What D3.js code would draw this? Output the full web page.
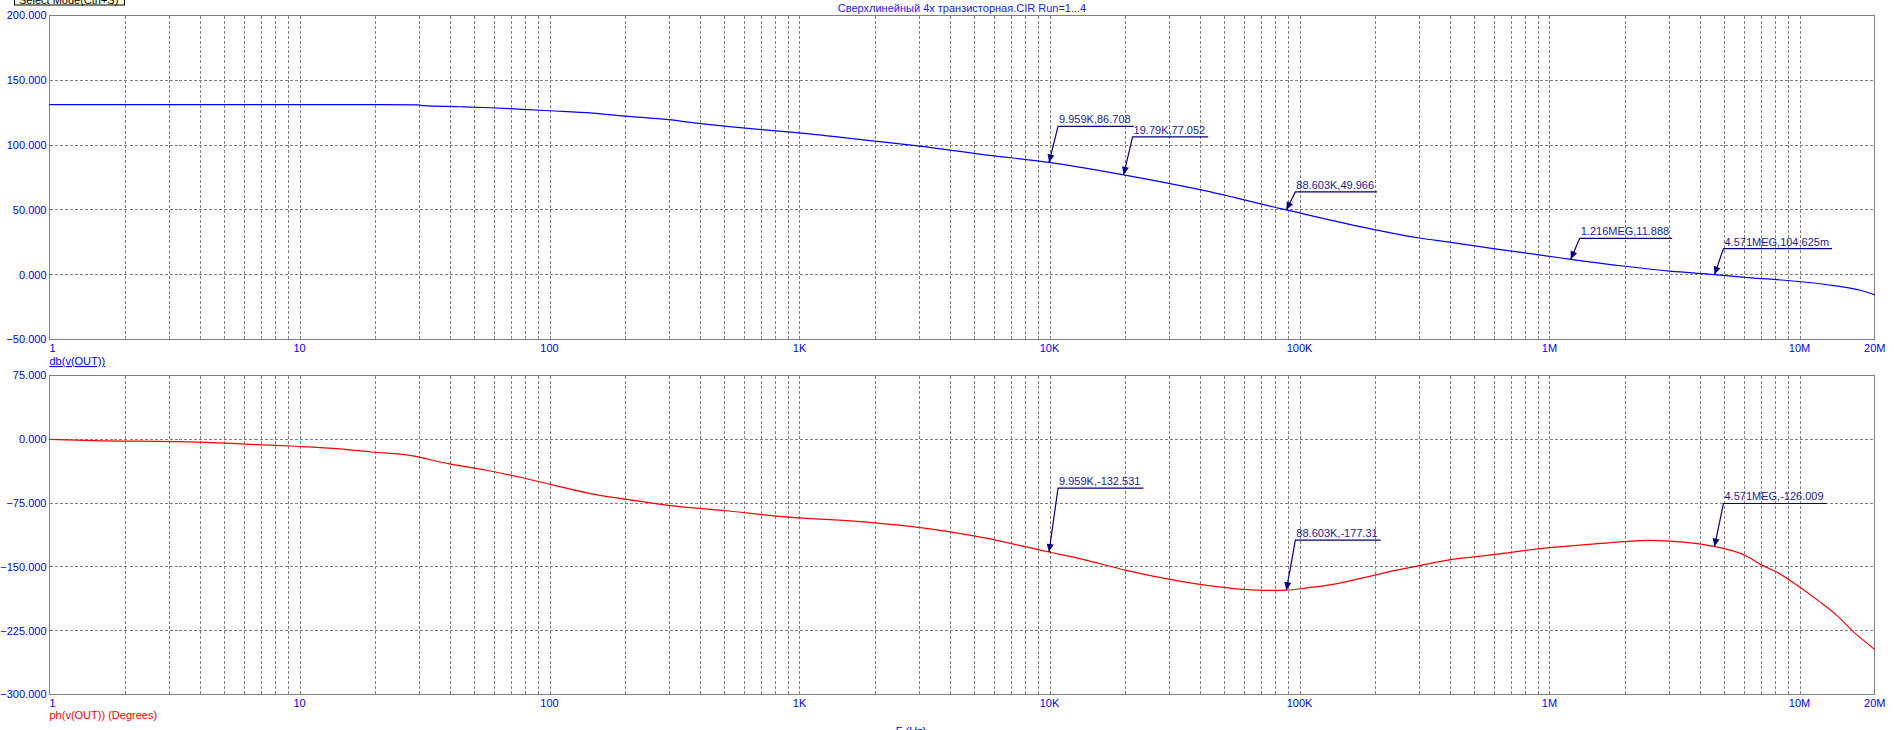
<!DOCTYPE html>
<html>
<head>
<meta charset="utf-8">
<script src="https://cdn.jsdelivr.net/npm/d3@7"></script>
<style>
  html, body { margin: 0; padding: 0; background: #fff; }
  svg { display: block; }
  text { font-family: "Liberation Sans", Arial, sans-serif; font-size: 11px; }
</style>
</head>
<body>
<svg id="chart" width="1894" height="730"></svg>
<script>
// ---------------- data ----------------
const titleText = "Сверхлинейный 4x транзисторная.CIR Run=1...4";

const magFreq = [1, 21, 30, 31.3, 44, 58, 69.5, 83, 100, 148.6, 200, 299, 403, 512, 764, 971,
  1995, 3027, 5628, 9959, 19790, 40000, 88603, 202000, 301000, 402000, 596000, 1000000,
  1216000, 2000000, 3030000, 4571000, 6050000, 10000000, 13700000, 17500000, 20000000];
const magDb = [131.2, 131.2, 131.0, 130.4, 129.6, 128.8, 128.1, 127.3, 126.5, 124.7, 122.4, 119.6,
  116.5, 114.4, 111.3, 109.6, 103.1, 99.2, 92.3, 86.7, 77.05, 65.6, 49.97, 34.6, 28.3, 25.0,
  20.1, 14.2, 11.89, 6.5, 2.7, 0.1, -2.0, -5.3, -8.4, -12.0, -15.6];

const phFreq = [1, 1.51, 3.14, 4.47, 6.74, 9.6, 14.5, 19.4, 26.8, 39.4, 56, 79.6, 100.6, 151, 203,
  299, 523, 834, 1900, 3050, 5430, 9959, 13600, 20300, 30300, 40000, 59600, 76000, 88603,
  106000, 136000, 185000, 250000, 301000, 402000, 596000, 1000000, 1440000, 2000000, 2500000,
  3030000, 3900000, 4571000, 6050000, 7100000, 8100000, 10000000, 12100000, 14100000,
  16500000, 20000000];
const phDeg = [0, -1.5, -2.7, -3.8, -6.2, -8.2, -11.3, -14.9, -18.4, -28.6, -36.4, -45.8, -52.9,
  -64.7, -70.6, -77.6, -84.3, -90.6, -97.6, -103.8, -115.6, -132.5, -141.2, -154.1, -164.7,
  -170.6, -176.4, -177.6, -177.3, -174.9, -170.6, -162, -153.3, -148.6, -141.5, -135.6, -127.4,
  -123.5, -120.3, -118.8, -119.6, -122.7, -126.0, -136.4, -148.2, -156, -173.7, -191.4, -207,
  -226.7, -247];

const xTickValues = [1, 10, 100, 1e3, 1e4, 1e5, 1e6, 1e7, 2e7];
const xTickLabels = ["1", "10", "100", "1K", "10K", "100K", "1M", "10M", "20M"];
const magTicks = [200, 150, 100, 50, 0, -50];
const phTicks = [75, 0, -75, -150, -225, -300];

// markers (frequency, value, label)
const magMarkerFreq = [9959, 19790, 88603, 1216000, 4571000];
const magMarkerVal = [86.708, 77.052, 49.966, 11.888, 0.104625];
const magMarkerText = ["9.959K,86.708", "19.79K,77.052", "88.603K,49.966", "1.216MEG,11.888", "4.571MEG,104.625m"];
const phMarkerFreq = [9959, 88603, 4571000];
const phMarkerVal = [-132.531, -177.31, -126.009];
const phMarkerText = ["9.959K,-132.531", "88.603K,-177.31", "4.571MEG,-126.009"];

// layout: label lift of each marker (px)
const magMarkerLift = [36, 38, 18, 21, 26];
const phMarkerLift = [64, 50, 43];

// ---------------- layout ----------------
const svg = d3.select("#chart");
const GRID = "#808080", BLUE = "#0000ff", RED = "#ff0000", NAVY = "#000080";

const x = d3.scaleLog().domain([1, 2e7]).range([49.5, 49.5 + 250 * Math.log10(2e7)]);
const yMag = d3.scaleLinear().domain([-50, 200]).range([339.5, 15.5]);
const yPh = d3.scaleLinear().domain([-300, 75]).range([694.5, 375.5]);

const minorVals = [];
for (let k = 0; k <= 7; k++) {
  for (let m = 1; m <= 9; m++) {
    const v = m * Math.pow(10, k);
    if (v > 1 && v < 2e7) minorVals.push(v);
  }
}

// tooltip remnant at top-left
svg.append("rect").attr("x", 14.5).attr("y", -8).attr("width", 110).attr("height", 13)
  .attr("fill", "#ffffe1").attr("stroke", "#000").attr("stroke-width", 1);
svg.append("text").attr("x", 19).attr("y", 4).attr("fill", "#000").text("Select Mode(Ctrl+S)");

// title
svg.append("text").attr("x", 962).attr("y", 11.5).attr("text-anchor", "middle")
  .attr("fill", "#2020ff").text(titleText);

function panel(y, ticks, fmtLabelY) {
  const g = svg.append("g");
  const [xa, xb] = x.range();
  const [yb, ya] = y.range();
  // vertical grid
  g.selectAll("line.vg").data(minorVals).join("line")
    .attr("x1", d => Math.round(x(d)) + 0.5).attr("x2", d => Math.round(x(d)) + 0.5)
    .attr("y1", ya).attr("y2", yb)
    .attr("stroke", GRID).attr("stroke-dasharray", "3,2").attr("shape-rendering", "crispEdges");
  // horizontal grid
  g.selectAll("line.hg").data(ticks.slice(1, -1)).join("line")
    .attr("x1", xa).attr("x2", xb)
    .attr("y1", d => Math.round(y(d) - 0.5) + 0.5).attr("y2", d => Math.round(y(d) - 0.5) + 0.5)
    .attr("stroke", GRID).attr("stroke-dasharray", "3,2").attr("shape-rendering", "crispEdges");
  // frame
  g.append("rect").attr("x", xa).attr("y", ya).attr("width", xb - xa).attr("height", yb - ya)
    .attr("fill", "none").attr("stroke", GRID).attr("shape-rendering", "crispEdges");
  // y tick labels
  g.selectAll("text.yl").data(ticks).join("text")
    .attr("x", 46.5).attr("y", d => y(d)).attr("dy", "0.35em")
    .attr("text-anchor", "end").attr("fill", BLUE)
    .text(d => d3.format(".3f")(d));
  // x tick labels
  g.selectAll("text.xl").data(xTickValues).join("text")
    .attr("x", d => x(d)).attr("y", yb + 12)
    .attr("text-anchor", (d, i) => i === 0 ? "start" : "middle")
    .attr("fill", BLUE)
    .text((d, i) => xTickLabels[i]);
  return g;
}

panel(yMag, magTicks);
panel(yPh, phTicks);

// series labels
svg.append("text").attr("x", 49.5).attr("y", 365).attr("fill", BLUE)
  .attr("text-decoration", "underline").text("db(v(OUT))");
svg.append("text").attr("x", 49.5).attr("y", 719).attr("fill", RED)
  .text("ph(v(OUT)) (Degrees)");
svg.append("text").attr("x", 911).attr("y", 735).attr("text-anchor", "middle").attr("fill", BLUE)
  .text("F (Hz)");

// curves
const magData = magFreq.map((f, i) => [f, magDb[i]]);
const phData = phFreq.map((f, i) => [f, phDeg[i]]);
svg.append("path").datum(magData)
  .attr("d", d3.line().x(d => x(d[0])).y(d => yMag(d[1])).curve(d3.curveMonotoneX))
  .attr("fill", "none").attr("stroke", BLUE).attr("stroke-width", 1.2);
svg.append("path").datum(phData)
  .attr("d", d3.line().x(d => x(d[0])).y(d => yPh(d[1])).curve(d3.curveMonotoneX))
  .attr("fill", "none").attr("stroke", RED).attr("stroke-width", 1.2);

// markers
function markers(freqs, vals, labels, lifts, y) {
  freqs.forEach((f, i) => {
    const px = x(f), py = y(vals[i]);
    const cx = px + 9, cy = py - lifts[i];
    const t = svg.append("text").attr("x", cx + 1).attr("y", cy - 3)
      .attr("fill", "#1c1c8c").text(labels[i]);
    const w = t.node().getComputedTextLength();
    svg.append("path")
      .attr("d", `M${px},${py}L${cx},${cy}L${cx + w + 4},${cy}`)
      .attr("fill", "none").attr("stroke", NAVY).attr("stroke-width", 1.2);
    // arrowhead
    const ang = Math.atan2(cy - py, cx - px);
    const L = 8, Wd = 3.5;
    const bx = px + L * Math.cos(ang), by = py + L * Math.sin(ang);
    const nx = -Math.sin(ang) * Wd, ny = Math.cos(ang) * Wd;
    svg.append("path")
      .attr("d", `M${px},${py}L${bx + nx},${by + ny}L${bx - nx},${by - ny}Z`)
      .attr("fill", NAVY);
  });
}
markers(magMarkerFreq, magMarkerVal, magMarkerText, magMarkerLift, yMag);
markers(phMarkerFreq, phMarkerVal, phMarkerText, phMarkerLift, yPh);
</script>
</body>
</html>
